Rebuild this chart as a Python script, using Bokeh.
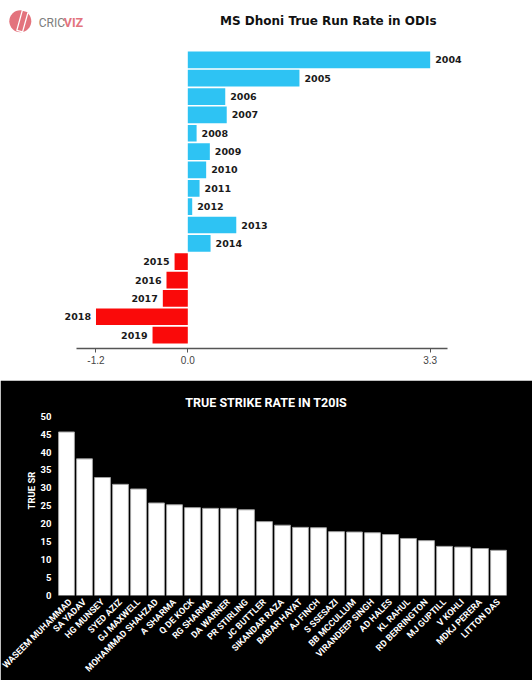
from math import pi
from bokeh.plotting import figure
from bokeh.models import Range1d, FixedTicker, Label, FactorRange
from bokeh.core.properties import value
from bokeh.embed import file_html
from bokeh.resources import INLINE

# ---------------- data ----------------
years = ["2004", "2005", "2006", "2007", "2008", "2009", "2010", "2011",
         "2012", "2013", "2014", "2015", "2016", "2017", "2018", "2019"]
true_run_rate = [3.30, 1.52, 0.51, 0.53, 0.12, 0.30, 0.25, 0.16,
                 0.06, 0.66, 0.31, -0.18, -0.29, -0.34, -1.25, -0.48]
odi_ticks = [-1.25, 0.0, 3.3]
odi_tick_labels = ["-1.2", "0.0", "3.3"]

players = ["WASEEM MUHAMMAD", "SA YADAV", "HG MUNSEY", "SYED AZIZ", "GJ MAXWELL",
           "MOHAMMAD SHAHZAD", "A SHARMA", "Q DE KOCK", "RG SHARMA", "DA WARNER",
           "PR STIRLING", "JC BUTTLER", "SIKANDAR RAZA", "BABAR HAYAT", "AJ FINCH",
           "S SSESAZI", "BB MCCULLUM", "VIRANDEEP SINGH", "AD HALES", "KL RAHUL",
           "RD BERRINGTON", "MJ GUPTILL", "V KOHLI", "MDKJ PERERA", "LITTON DAS"]
true_sr = [45.6, 38.1, 32.9, 31.0, 29.7, 25.8, 25.3, 24.5, 24.3, 24.3,
           23.9, 20.6, 19.6, 19.0, 18.9, 17.8, 17.7, 17.5, 17.0, 15.9,
           15.3, 13.7, 13.5, 13.1, 12.6]
sr_ticks = [0, 5, 10, 15, 20, 25, 30, 35, 40, 45, 50]

BLUE = "#2ec3f3"
RED = "#fa0a0a"
PINK = "#e3737d"
COND = "Roboto"

# ---------------- top chart ----------------
p1 = figure(width=532, height=380, output_backend="svg", toolbar_location=None,
            x_range=Range1d(-2.550, 4.693), y_range=Range1d(15.73, -3.234),
            min_border_left=0, min_border_right=0, min_border_top=0,
            min_border_bottom=32, background_fill_color="white",
            border_fill_color="white")
p1.outline_line_color = None
p1.extra_x_ranges = {"px": Range1d(0, 532)}
p1.extra_y_ranges = {"py": Range1d(348, 0)}
p1.yaxis.visible = False
p1.grid.visible = False

idx = list(range(len(years)))
pos = [v >= 0 for v in true_run_rate]
colors = [BLUE if b else RED for b in pos]
p1.hbar(y=idx, left=0, right=true_run_rate, height=0.91,
        fill_color=colors, line_color=None)

pi_idx = [i for i in idx if pos[i]]
ni_idx = [i for i in idx if not pos[i]]
p1.text(x=[true_run_rate[i] for i in pi_idx], y=pi_idx,
        text=[years[i] for i in pi_idx], x_offset=5,
        text_align="left", text_baseline="middle",
        text_font=value("DejaVu Sans"), text_font_style="bold",
        text_font_size="9.5px", text_color="#1a1a1a")
p1.text(x=[true_run_rate[i] for i in ni_idx], y=ni_idx,
        text=[years[i] for i in ni_idx], x_offset=-5,
        text_align="right", text_baseline="middle",
        text_font=value("DejaVu Sans"), text_font_style="bold",
        text_font_size="9.5px", text_color="#1a1a1a")

ax = p1.xaxis[0]
ax.ticker = FixedTicker(ticks=odi_ticks)
ax.major_label_overrides = {t: l for t, l in zip(odi_ticks, odi_tick_labels)}
ax.bounds = (-1.515, 3.536)
ax.axis_line_color = "#555555"
ax.axis_line_width = 1.5
ax.major_tick_line_color = "#555555"
ax.major_tick_out = 4
ax.major_tick_in = 0
ax.minor_tick_line_color = None
ax.major_label_text_font = "Liberation Sans"
ax.major_label_text_font_size = "10px"
ax.major_label_text_color = "#444444"
ax.major_label_standoff = 3

# title
p1.add_layout(Label(x=327.8, y=328, x_units="screen", y_units="screen",
                    text="MS Dhoni True Run Rate in ODIs", text_align="center",
                    text_baseline="middle", text_font="DejaVu Sans",
                    text_font_style="bold", text_font_size="12px",
                    text_color="#111111"))
# logo
p1.scatter(x=[19.8], y=[20.8], size=22, fill_color=PINK, line_color=None,
           x_range_name="px", y_range_name="py")
p1.rect(x=[22.0], y=[20.5], width=6, height=21, angle=-0.27, width_units="screen",
        height_units="screen", fill_color=PINK, line_color="white", line_width=1.3,
        x_range_name="px", y_range_name="py")
p1.text(x=[38.3], y=[22], text=["CRIC"], text_baseline="middle",
        text_font=value("Roboto"), text_font_size="12px",
        text_color="#7d7d7d", x_range_name="px", y_range_name="py")
p1.text(x=[63.3], y=[22], text=["VIZ"], text_baseline="middle",
        text_font=value("Roboto"), text_font_style="bold",
        text_font_size="12.5px", text_color=PINK,
        x_range_name="px", y_range_name="py")

# ---------------- bottom chart ----------------
p2 = figure(width=532, height=300, output_backend="svg", toolbar_location=None,
            x_range=FactorRange(factors=players, range_padding=0),
            y_range=Range1d(0, 58.56),
            min_border_left=57, min_border_right=25, min_border_top=5,
            min_border_bottom=85, background_fill_color="black",
            border_fill_color="black")
p2.outline_line_color = "black"
p2.outline_line_width = 3
p2.grid.visible = False
p2.vbar(x=players, top=true_sr, width=0.88, bottom=0,
        fill_color="white", line_color="#a0a0a0", line_width=1)

xa = p2.xaxis[0]
xa.axis_line_color = None
xa.major_tick_line_color = None
xa.minor_tick_line_color = None
xa.major_tick_out = 0
xa.major_tick_in = 0
xa.major_label_orientation = pi / 4
xa.major_label_text_color = "white"
xa.major_label_text_font = COND
xa.major_label_text_font_style = "bold"
xa.major_label_text_font_size = "9px"
xa.major_label_standoff = 5

ya = p2.yaxis[0]
ya.ticker = FixedTicker(ticks=sr_ticks)
ya.axis_line_color = None
ya.major_tick_line_color = None
ya.minor_tick_line_color = None
ya.major_tick_out = 0
ya.major_tick_in = 0
ya.major_label_text_color = "white"
ya.major_label_text_font = COND
ya.major_label_text_font_style = "bold"
ya.major_label_text_font_size = "9.5px"
ya.major_label_standoff = 6
ya.axis_label = "TRUE SR"
ya.axis_label_text_color = "white"
ya.axis_label_text_font = COND
ya.axis_label_text_font_style = "bold"
ya.axis_label_text_font_size = "9.5px"
ya.axis_label_standoff = 1

p2.add_layout(Label(x=208.7, y=192.7, x_units="screen", y_units="screen",
                    text="TRUE STRIKE RATE IN T20IS", text_align="center",
                    text_baseline="middle", text_font=COND,
                    text_font_style="bold", text_font_size="12.5px",
                    text_color="white"))

open("out.html", "w").write(file_html([p1, p2], INLINE))
